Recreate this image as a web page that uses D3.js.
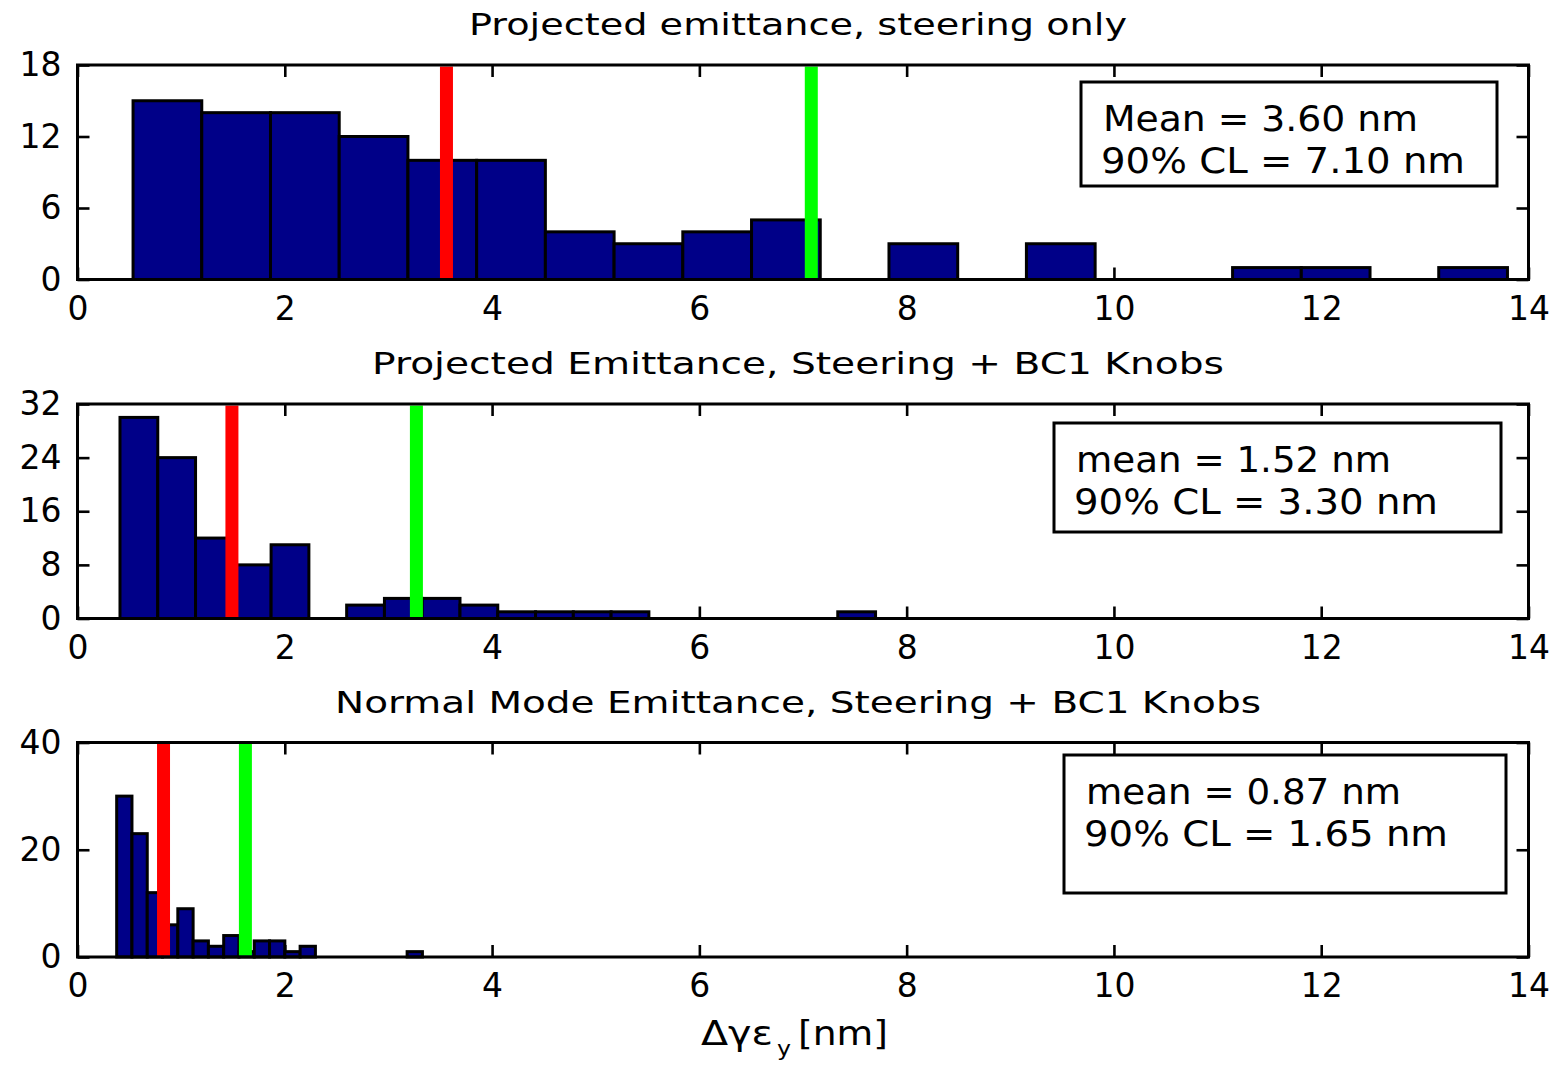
<!DOCTYPE html>
<html>
<head>
<meta charset="utf-8">
<script src="https://cdn.jsdelivr.net/npm/d3@7"></script>
<style>
	body { margin: 0; background: #fff; }
	svg text { font-family: 'DejaVu Sans', sans-serif; fill: #000; }
</style>
</head>
<body>
<div id="chart"></div>
<script>
// values
var xTicks = [0, 2, 4, 6, 8, 10, 12, 14];
var titles = [
	'Projected emittance, steering only',
	'Projected Emittance, Steering + BC1 Knobs',
	'Normal Mode Emittance, Steering + BC1 Knobs'
];
var yMax = [18, 32, 40];
var yTicks1 = [0, 6, 12, 18];
var yTicks2 = [0, 8, 16, 24, 32];
var yTicks3 = [0, 20, 40];

// histogram range (first edge, last edge) and counts per bin
var binRange1 = [0.536, 13.797];
var binRange2 = [0.410, 7.700];
var binRange3 = [0.378, 3.328];
var counts1 = [15, 14, 14, 12, 10, 10, 4, 3, 4, 5, 0, 3, 0, 3, 0, 0, 1, 1, 0, 1];
var counts2 = [30, 24, 12, 8, 11, 0, 2, 3, 3, 2, 1, 1, 1, 1, 0, 0, 0, 0, 0, 1];
var counts3 = [30, 23, 12, 6, 9, 3, 2, 4, 1, 3, 3, 1, 2, 0, 0, 0, 0, 0, 0, 1];

// red = mean, green = 90% CL (line positions as drawn)
var meanLines = [3.56, 1.49, 0.83];
var clLines = [7.08, 3.27, 1.62];
var legendLine1 = ['Mean = 3.60 nm', 'mean = 1.52 nm', 'mean = 0.87 nm'];
var legendLine2 = ['90% CL = 7.10 nm', '90% CL = 3.30 nm', '90% CL = 1.65 nm'];

var W = 1554, H = 1065;
var svg = d3.select('#chart').append('svg').attr('width', W).attr('height', H);
svg.append('rect').attr('width', W).attr('height', H).attr('fill', '#fff');

var x = d3.scaleLinear().domain([0, 14]).range([77.5, 1528.5]);

function Histogram(options) {
	this.options = options || {};
	this.top = this.options.top;
	this.height = 214.5;
	this.y = d3.scaleLinear().domain([0, this.options.yMax]).range([this.top + this.height, this.top]);
	this.g = svg.append('g');
	this.init();
}

Histogram.prototype = {
	constructor: Histogram,

	init: function () {
		this.drawAxes();
		this.drawBars();
		this.drawLines();
		this.drawBox();
		this.drawLegend();
		this.drawTitle();
	},

	drawAxes: function () {
		var bottom = this.top + this.height;
		var y = this.y;

		var bx = this.g.append('g').attr('transform', 'translate(0,' + bottom + ')')
			.call(d3.axisBottom(x).tickValues(xTicks).tickSize(-12).tickSizeOuter(0).tickPadding(17));
		var tx = this.g.append('g').attr('transform', 'translate(0,' + this.top + ')')
			.call(d3.axisTop(x).tickValues(xTicks).tickSize(-12).tickSizeOuter(0).tickFormat(''));
		var ly = this.g.append('g').attr('transform', 'translate(' + x.range()[0] + ',0)')
			.call(d3.axisLeft(y).tickValues(this.options.yTicks).tickSize(-12).tickSizeOuter(0).tickPadding(16));
		var ry = this.g.append('g').attr('transform', 'translate(' + x.range()[1] + ',0)')
			.call(d3.axisRight(y).tickValues(this.options.yTicks).tickSize(-12).tickSizeOuter(0).tickFormat(''));

		[bx, tx, ly, ry].forEach(function (a) {
			a.select('.domain').remove();
			a.selectAll('.tick line').attr('stroke', '#000').attr('stroke-width', 2.6);
			a.selectAll('.tick text').style('font-size', '33px').attr('fill', '#000');
		});
	},

	drawBars: function () {
		var y = this.y;
		var range = this.options.binRange;
		var counts = this.options.counts;
		var bw = (range[1] - range[0]) / counts.length;
		var bins = counts.map(function (c, i) {
			return { x0: range[0] + i * bw, x1: range[0] + (i + 1) * bw, count: c };
		}).filter(function (b) { return b.count > 0; });

		this.g.append('g').selectAll('rect').data(bins).enter().append('rect')
			.attr('x', function (d) { return x(d.x0); })
			.attr('width', function (d) { return x(d.x1) - x(d.x0); })
			.attr('y', function (d) { return y(d.count); })
			.attr('height', function (d) { return y(0) - y(d.count); })
			.attr('fill', '#000088')
			.attr('stroke', '#000')
			.attr('stroke-width', 3);
	},

	drawLines: function () {
		var top = this.top, bottom = this.top + this.height;
		var lines = [
			{ v: this.options.mean, c: '#ff0000' },
			{ v: this.options.cl, c: '#00ff00' }
		];
		this.g.append('g').selectAll('line').data(lines).enter().append('line')
			.attr('x1', function (d) { return x(d.v); })
			.attr('x2', function (d) { return x(d.v); })
			.attr('y1', top + 1.5)
			.attr('y2', bottom - 1.5)
			.attr('stroke', function (d) { return d.c; })
			.attr('stroke-width', 13);
	},

	drawBox: function () {
		this.g.append('rect')
			.attr('x', x.range()[0]).attr('y', this.top)
			.attr('width', x.range()[1] - x.range()[0]).attr('height', this.height)
			.attr('fill', 'none').attr('stroke', '#000').attr('stroke-width', 3);
	},

	drawLegend: function () {
		var b = this.options.legendBox;
		var lg = this.g.append('g').attr('transform', 'translate(' + b.x + ',' + (this.top + b.dy) + ')');
		lg.append('rect').attr('width', b.w).attr('height', b.h)
			.attr('fill', '#fff').attr('stroke', '#000').attr('stroke-width', 3);
		lg.append('text').attr('x', 22).attr('y', 49).style('font-size', '35px')
			.attr('textLength', 315).attr('lengthAdjust', 'spacingAndGlyphs')
			.text(this.options.text1);
		lg.append('text').attr('x', 20).attr('y', 91).style('font-size', '35px')
			.attr('textLength', 364).attr('lengthAdjust', 'spacingAndGlyphs')
			.text(this.options.text2);
	},

	drawTitle: function () {
		this.g.append('text')
			.attr('x', this.options.titleX)
			.attr('y', this.top - 30)
			.style('font-size', '30px')
			.attr('textLength', this.options.titleW)
			.attr('lengthAdjust', 'spacingAndGlyphs')
			.text(this.options.title);
	}
};

new Histogram({
	top: 65, yMax: yMax[0], yTicks: yTicks1, binRange: binRange1, counts: counts1,
	mean: meanLines[0], cl: clLines[0], text1: legendLine1[0], text2: legendLine2[0],
	legendBox: { x: 1081, dy: 17, w: 416, h: 104 },
	title: titles[0], titleX: 469, titleW: 658
});
new Histogram({
	top: 404, yMax: yMax[1], yTicks: yTicks2, binRange: binRange2, counts: counts2,
	mean: meanLines[1], cl: clLines[1], text1: legendLine1[1], text2: legendLine2[1],
	legendBox: { x: 1054, dy: 19, w: 447, h: 109 },
	title: titles[1], titleX: 372, titleW: 852
});
new Histogram({
	top: 742.5, yMax: yMax[2], yTicks: yTicks3, binRange: binRange3, counts: counts3,
	mean: meanLines[2], cl: clLines[2], text1: legendLine1[2], text2: legendLine2[2],
	legendBox: { x: 1064, dy: 12.5, w: 442, h: 138 },
	title: titles[2], titleX: 335, titleW: 926
});

// x axis label: Δγε_y [nm]
var xl = svg.append('g').attr('class', 'xlabel');
xl.append('text').attr('x', 701).attr('y', 1045).style('font-size', '33px')
	.attr('textLength', 72).attr('lengthAdjust', 'spacingAndGlyphs').text('Δγε');
xl.append('text').attr('x', 777).attr('y', 1056).style('font-size', '21px')
	.attr('textLength', 14).attr('lengthAdjust', 'spacingAndGlyphs').text('y');
xl.append('text').attr('x', 798).attr('y', 1045).style('font-size', '33px')
	.attr('textLength', 90).attr('lengthAdjust', 'spacingAndGlyphs').text('[nm]');
</script>
</body>
</html>
